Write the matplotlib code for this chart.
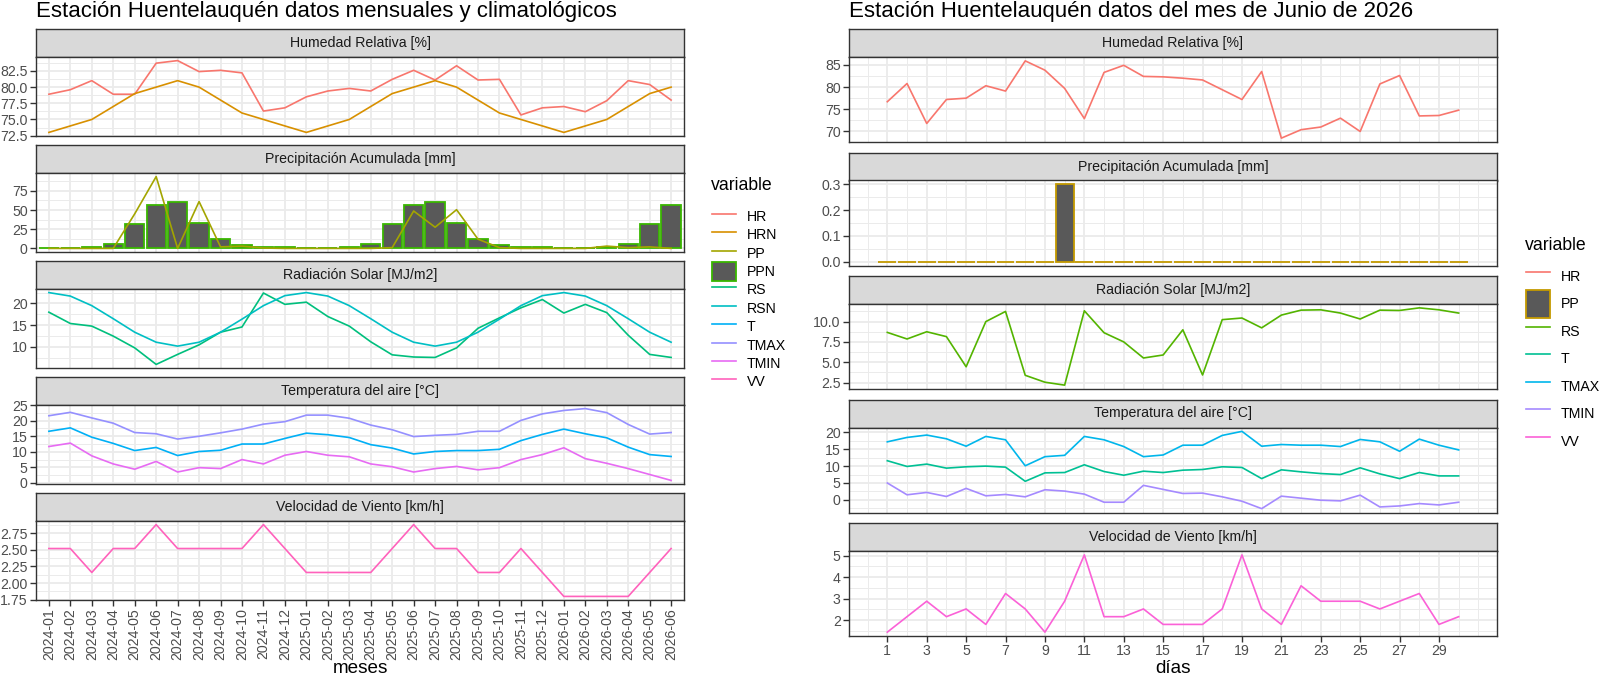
import matplotlib
matplotlib.use("Agg")
import matplotlib.pyplot as plt
import matplotlib.ticker as mticker
from matplotlib.lines import Line2D
from matplotlib.patches import Patch
import numpy as np

plt.rcParams['font.family'] = ['Liberation Sans', 'DejaVu Sans']

# ---------------- data: monthly + climatology ----------------
meses = ['2024-01', '2024-02', '2024-03', '2024-04', '2024-05', '2024-06',
         '2024-07', '2024-08', '2024-09', '2024-10', '2024-11', '2024-12',
         '2025-01', '2025-02', '2025-03', '2025-04', '2025-05', '2025-06',
         '2025-07', '2025-08', '2025-09', '2025-10', '2025-11', '2025-12',
         '2026-01', '2026-02', '2026-03', '2026-04', '2026-05', '2026-06']

hr_m = [78.9, 79.6, 81.0, 78.9, 78.9, 83.7, 84.1, 82.4, 82.6, 82.2, 76.3, 76.8,
        78.5, 79.4, 79.8, 79.4, 81.2, 82.6, 81.1, 83.3, 81.1, 81.2, 75.7, 76.8,
        77.0, 76.2, 77.9, 81.0, 80.4, 78.0]
hrn_m = [73, 74, 75, 77, 79, 80, 81, 80, 78, 76, 75, 74,
         73, 74, 75, 77, 79, 80, 81, 80, 78, 76, 75, 74,
         73, 74, 75, 77, 79, 80]
pp_m = [0, 0, 0, 0, 45, 93.5, 0, 61, 2, 3, 0.5, 0,
        0, 0, 0, 0, 1, 48.7, 27.6, 50.4, 12, 1, 0, 0,
        0, 0, 3, 1, 2, 0]
ppn_m = [0.4, 0.4, 2, 6, 31.5, 56.5, 60, 33, 12, 4.3, 2, 2,
         0.4, 0.4, 2, 6, 31.5, 56.5, 60, 33, 12, 4.3, 2, 2,
         0.4, 0.4, 2, 6, 31.5, 56.5]
rs_m = [18.0, 15.4, 14.8, 12.5, 9.8, 6.0, 8.3, 10.5, 13.4, 14.6, 22.4, 19.8,
        20.3, 17.0, 14.8, 11.2, 8.2, 7.7, 7.6, 9.8, 14.3, 16.7, 19.0, 20.9,
        17.8, 19.8, 17.9, 12.7, 8.3, 7.6]
rsn_m = [22.5, 21.7, 19.5, 16.5, 13.4, 11.1, 10.2, 11.1, 13.4, 16.4, 19.5, 21.8,
         22.5, 21.7, 19.5, 16.5, 13.4, 11.1, 10.2, 11.1, 13.4, 16.4, 19.5, 21.8,
         22.5, 21.7, 19.5, 16.5, 13.4, 11.1]
t_m = [16.6, 17.7, 14.7, 12.7, 10.4, 11.4, 8.8, 10.1, 10.5, 12.5, 12.5, 14.3,
       16.0, 15.5, 14.6, 12.3, 11.2, 9.3, 10.1, 10.4, 10.4, 10.8, 13.6, 15.6,
       17.3, 15.8, 14.5, 11.5, 9.1, 8.5]
tmax_m = [21.6, 22.7, 20.9, 19.2, 16.2, 15.8, 14.1, 15.0, 16.1, 17.3, 18.9, 19.7,
          21.8, 21.8, 20.8, 18.6, 17.1, 14.9, 15.3, 15.6, 16.6, 16.6, 20.1, 22.2,
          23.3, 23.9, 22.6, 18.8, 15.7, 16.2]
tmin_m = [11.7, 12.8, 8.7, 6.1, 4.4, 6.9, 3.5, 4.9, 4.6, 7.5, 6.1, 8.9,
          10.1, 8.9, 8.4, 6.1, 5.2, 3.5, 4.6, 5.3, 4.2, 4.9, 7.5, 9.1,
          11.3, 7.8, 6.3, 4.6, 2.7, 0.8]
vv_m = [2.52, 2.52, 2.16, 2.52, 2.52, 2.88, 2.52, 2.52, 2.52, 2.52, 2.88, 2.52,
        2.16, 2.16, 2.16, 2.16, 2.52, 2.88, 2.52, 2.52, 2.16, 2.16, 2.52, 2.16,
        1.80, 1.80, 1.80, 1.80, 2.16, 2.52]

# ---------------- data: daily, June 2026 ----------------
dias = list(range(1, 31))
hr_d = [76.7, 80.8, 71.8, 77.2, 77.5, 80.3, 79.1, 85.9, 83.8, 79.7,
        72.9, 83.3, 84.9, 82.4, 82.3, 82.0, 81.6, 79.4, 77.2, 83.5,
        68.5, 70.4, 71.0, 73.0, 70.0, 80.7, 82.6, 73.5, 73.6, 74.8]
pp_d = [0, 0, 0, 0, 0, 0, 0, 0, 0, 0.3,
        0, 0, 0, 0, 0, 0, 0, 0, 0, 0,
        0, 0, 0, 0, 0, 0, 0, 0, 0, 0]
rs_d = [8.67, 7.86, 8.75, 8.15, 4.44, 10.0, 11.25, 3.39, 2.54, 2.18,
        11.33, 8.63, 7.5, 5.52, 5.89, 8.99, 3.43, 10.24, 10.44, 9.23,
        10.8, 11.41, 11.45, 11.05, 10.32, 11.41, 11.37, 11.69, 11.45, 11.05]
t_d = [11.6, 9.9, 10.6, 9.4, 9.8, 10.0, 9.7, 5.5, 8.0, 8.1,
       10.4, 8.4, 7.3, 8.5, 8.1, 8.8, 9.0, 9.8, 9.6, 6.3,
       8.9, 8.3, 7.8, 7.5, 9.5, 7.7, 6.3, 8.1, 7.1, 7.1]
tmax_d = [17.2, 18.5, 19.2, 18.1, 15.9, 18.8, 17.8, 10.1, 12.8, 13.2,
          18.8, 17.8, 15.8, 12.8, 13.3, 16.2, 16.2, 19.1, 20.3, 15.9,
          16.4, 16.2, 16.2, 15.8, 17.9, 17.2, 14.4, 18.0, 16.2, 14.8]
tmin_d = [5.0, 1.5, 2.2, 1.0, 3.4, 1.2, 1.6, 0.9, 3.0, 2.6,
          1.7, -0.7, -0.7, 4.3, 3.1, 1.9, 2.0, 0.9, -0.4, -2.6,
          1.1, 0.5, -0.1, -0.3, 1.4, -2.1, -1.8, -1.1, -1.5, -0.7]
vv_d = [1.44, 2.16, 2.88, 2.16, 2.52, 1.80, 3.24, 2.52, 1.44, 2.88,
        5.04, 2.16, 2.16, 2.52, 1.80, 1.80, 1.80, 2.52, 5.04, 2.52,
        1.80, 3.60, 2.88, 2.88, 2.88, 2.52, 2.88, 3.24, 1.80, 2.16]

# ---------------- layout helpers ----------------
W, H = 1600, 676
fig = plt.figure(figsize=(W / 100, H / 100), dpi=100)
fig.patch.set_facecolor('white')

BORDER = '#333333'
GRID = '#EBEBEB'
TXT_SMALL = 10.2
TXT_TITLE = 16.0
TXT_AXIS = 12.7


def px_axes(x0, x1, y0, y1):
    return fig.add_axes([x0 / W, 1 - y1 / H, (x1 - x0) / W, (y1 - y0) / H])


def strip(x0, x1, y0, y1, label):
    ax = px_axes(x0, x1, y0, y1)
    ax.set_facecolor('#D9D9D9')
    ax.set_xticks([])
    ax.set_yticks([])
    for s in ax.spines.values():
        s.set_color(BORDER)
        s.set_linewidth(1.0)
    ax.text(0.5, 0.5, label, ha='center', va='center', fontsize=TXT_SMALL,
            color='#1A1A1A', transform=ax.transAxes)


def panel(x0, x1, y0, y1, step, fmt, lo, hi):
    ax = px_axes(x0, x1, y0, y1)
    for s in ax.spines.values():
        s.set_color(BORDER)
        s.set_linewidth(1.0)
    r = hi - lo
    ax.set_ylim(lo - 0.05 * r, hi + 0.05 * r)
    ax.yaxis.set_major_locator(mticker.MultipleLocator(step))
    ax.yaxis.set_minor_locator(mticker.AutoMinorLocator(2))
    ax.yaxis.set_major_formatter(mticker.FormatStrFormatter(fmt))
    ax.grid(which='major', color=GRID, lw=1.3)
    ax.grid(which='minor', color=GRID, lw=0.7)
    ax.set_axisbelow(True)
    ax.tick_params(which='major', length=4, width=1, color=BORDER,
                   labelsize=TXT_SMALL, labelcolor='#4D4D4D', pad=2)
    ax.tick_params(which='minor', length=0)
    ax.tick_params(axis='x', bottom=False, labelbottom=False)
    return ax


def rng(*series):
    vals = np.concatenate([np.asarray(s, dtype=float) for s in series])
    return vals.min(), vals.max()


def legend(handles, labels, x, y_title, y_top, hh):
    fig.text(x / W, 1 - y_title / H, 'variable', fontsize=TXT_AXIS,
             ha='left', va='center')
    fig.legend(handles, labels, loc='upper left',
               bbox_to_anchor=((x + 1) / W, 1 - y_top / H),
               frameon=False, fontsize=TXT_SMALL, handlelength=1.7,
               handleheight=hh, labelspacing=0, handletextpad=0.75,
               borderpad=0, borderaxespad=0)


LW = 1.2

# ---------------- left: monthly ----------------
LX0, LX1 = 36, 684
lstrips = [29 + 116 * i for i in range(5)]
idx = np.arange(len(meses))

fig.text(LX0 / W, 1 - 16.5 / H, 'Estación Huentelauquén datos mensuales y climatológicos',
         fontsize=TXT_TITLE, va='baseline', ha='left')

specs_l = [
    ('Humedad Relativa [%]', 2.5, '%.1f', rng(hr_m, hrn_m)),
    ('Precipitación Acumulada [mm]', 25, '%g', (0, max(max(pp_m), max(ppn_m)))),
    ('Radiación Solar [MJ/m2]', 5, '%g', rng(rs_m, rsn_m)),
    ('Temperatura del aire [°C]', 5, '%g', rng(t_m, tmax_m, tmin_m)),
    ('Velocidad de Viento [km/h]', 0.25, '%.2f', rng(vv_m)),
]
axl = []
for (lab, step, fmt, (lo, hi)), y0 in zip(specs_l, lstrips):
    strip(LX0, LX1, y0, y0 + 28, lab)
    ax = panel(LX0, LX1, y0 + 28, y0 + 107, step, fmt, lo, hi)
    ax.set_xlim(-0.6, len(meses) - 0.4)
    ax.set_xticks(idx)
    ax.xaxis.set_minor_locator(mticker.NullLocator())
    axl.append(ax)

axl[0].plot(idx, hr_m, color='#F8766D', lw=LW)
axl[0].plot(idx, hrn_m, color='#D89000', lw=LW)
axl[1].bar(idx, ppn_m, width=0.9, color='#595959', edgecolor='#39B600', lw=1.3)
axl[1].plot(idx, pp_m, color='#A3A500', lw=LW)
axl[2].plot(idx, rs_m, color='#00BF7D', lw=LW)
axl[2].plot(idx, rsn_m, color='#00BFC4', lw=LW)
axl[3].plot(idx, t_m, color='#00B0F6', lw=LW)
axl[3].plot(idx, tmax_m, color='#9590FF', lw=LW)
axl[3].plot(idx, tmin_m, color='#E76BF3', lw=LW)
axl[4].plot(idx, vv_m, color='#FF62BC', lw=LW)

axl[4].tick_params(axis='x', bottom=True, labelbottom=True, length=4, width=1,
                   color=BORDER, labelsize=TXT_SMALL, labelcolor='#4D4D4D')
axl[4].set_xticklabels(meses, rotation=90, ha='center', va='top')
fig.text((LX0 + LX1) / 2 / W, 1 - 673 / H, 'meses', fontsize=13.6,
         ha='center', va='baseline')

cols_l = ['#F8766D', '#D89000', '#A3A500', None, '#00BF7D', '#00BFC4',
          '#00B0F6', '#9590FF', '#E76BF3', '#FF62BC']
labs_l = ['HR', 'HRN', 'PP', 'PPN', 'RS', 'RSN', 'T', 'TMAX', 'TMIN', 'VV']
hand_l = []
for c, lab in zip(cols_l, labs_l):
    if lab == 'PPN':
        hand_l.append(Patch(facecolor='#595959', edgecolor='#39B600', lw=1.3))
    else:
        hand_l.append(Line2D([], [], color=c, lw=LW))
legend(hand_l, labs_l, 711, 186, 207, 1.62)

# ---------------- right: daily ----------------
RX0, RX1 = 849, 1497
rstrips = [29 + 123.5 * i for i in range(5)]

fig.text(RX0 / W, 1 - 16.5 / H, 'Estación Huentelauquén datos del mes de Junio de 2026',
         fontsize=TXT_TITLE, va='baseline', ha='left')

specs_r = [
    ('Humedad Relativa [%]', 5, '%g', rng(hr_d)),
    ('Precipitación Acumulada [mm]', 0.1, '%.1f', (0, max(pp_d))),
    ('Radiación Solar [MJ/m2]', 2.5, '%.1f', rng(rs_d)),
    ('Temperatura del aire [°C]', 5, '%g', rng(t_d, tmax_d, tmin_d)),
    ('Velocidad de Viento [km/h]', 1, '%g', rng(vv_d)),
]
d0, d1 = dias[0] - 0.45, dias[-1] + 0.45
dr = d1 - d0
axr = []
for (lab, step, fmt, (lo, hi)), y0 in zip(specs_r, rstrips):
    strip(RX0, RX1, y0, y0 + 28, lab)
    ax = panel(RX0, RX1, y0 + 28, y0 + 113, step, fmt, lo, hi)
    ax.set_xlim(d0 - 0.05 * dr, d1 + 0.05 * dr)
    ax.xaxis.set_major_locator(mticker.FixedLocator(dias[::2]))
    ax.xaxis.set_minor_locator(mticker.FixedLocator(list(range(0, 32, 2)) + [31]))
    axr.append(ax)

axr[0].plot(dias, hr_d, color='#F8766D', lw=LW)
axr[1].bar(dias, pp_d, width=0.9, color='#595959', edgecolor='#C49A00', lw=1.3)
axr[2].plot(dias, rs_d, color='#53B400', lw=LW)
axr[3].plot(dias, t_d, color='#00C094', lw=LW)
axr[3].plot(dias, tmax_d, color='#00B6EB', lw=LW)
axr[3].plot(dias, tmin_d, color='#A58AFF', lw=LW)
axr[4].plot(dias, vv_d, color='#FB61D7', lw=LW)

axr[4].tick_params(axis='x', bottom=True, labelbottom=True, length=4, width=1,
                   color=BORDER, labelsize=TXT_SMALL, labelcolor='#4D4D4D')
fig.text((RX0 + RX1) / 2 / W, 1 - 673 / H, 'días', fontsize=13.6,
         ha='center', va='baseline')

cols_r = ['#F8766D', None, '#53B400', '#00C094', '#00B6EB', '#A58AFF', '#FB61D7']
labs_r = ['HR', 'PP', 'RS', 'T', 'TMAX', 'TMIN', 'VV']
hand_r = []
for c, lab in zip(cols_r, labs_r):
    if lab == 'PP':
        hand_r.append(Patch(facecolor='#595959', edgecolor='#C49A00', lw=1.3))
    else:
        hand_r.append(Line2D([], [], color=c, lw=LW))
legend(hand_r, labs_r, 1525, 245, 262.5, 2.61)

fig.savefig('out.png', dpi=100)
